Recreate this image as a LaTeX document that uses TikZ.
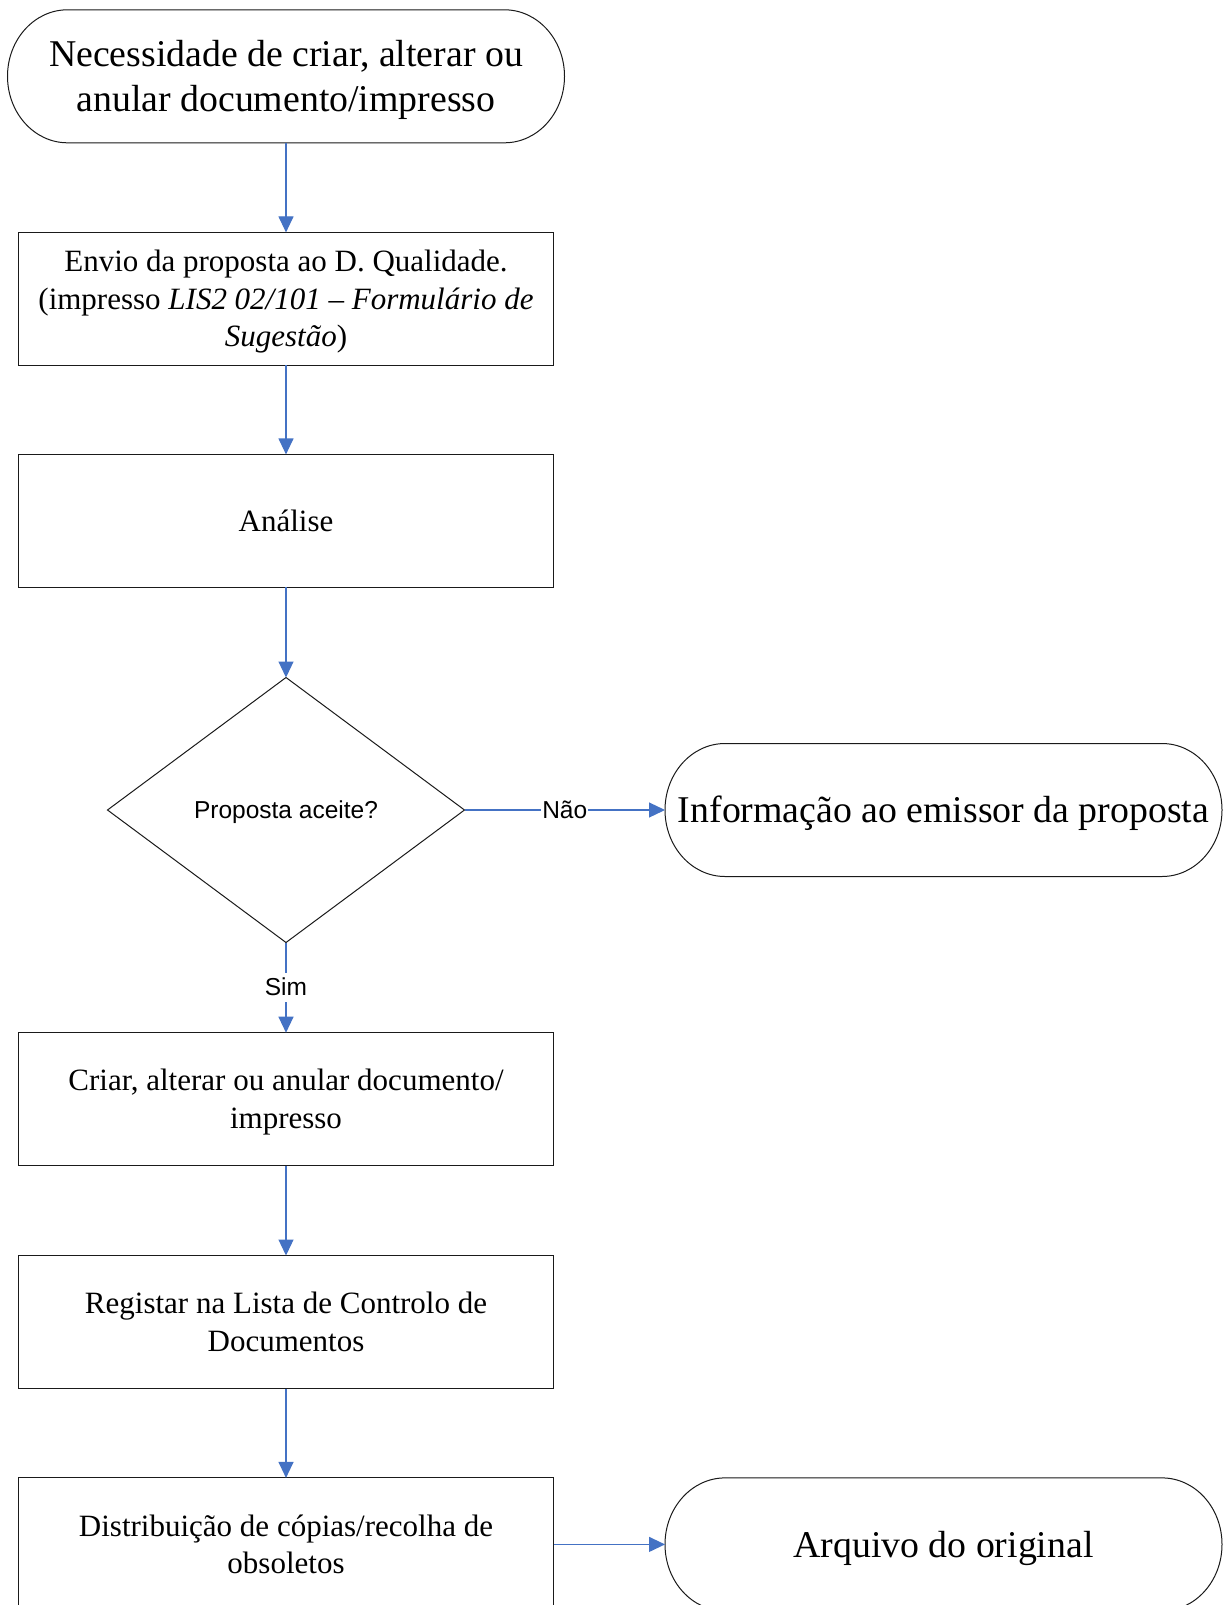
\documentclass[tikz,border=0pt]{standalone}
\usepackage{fontspec}
\setmainfont{Liberation Serif}
\newfontfamily\arialfont{Liberation Sans}
\usetikzlibrary{shapes.geometric,arrows.meta}
\definecolor{flowblue}{HTML}{4472C4}
\definecolor{edgegray}{HTML}{1A1A1A}

% invisible strut with the font's full ascent and descent
\newcommand\linestrut{\rule[-0.216em]{0pt}{1.107em}}

\tikzset{
  struts/.style={execute at begin node={\linestrut}, execute at end node={\linestrut}},
  box/.style={draw=edgegray, line width=1pt, minimum width=535pt, minimum height=133pt,
    inner sep=0pt, outer sep=0pt, align=center, struts,
    font=\fontsize{31}{37.5}\selectfont},
  term/.style={minimum width=557pt, minimum height=133pt, inner sep=0pt, outer sep=0pt,
    align=center, struts, font=\fontsize{37.8}{45}\selectfont},
  decision/.style={draw=edgegray, diamond, line width=1pt, minimum width=357pt,
    minimum height=265pt, inner sep=0pt, outer sep=0pt, struts,
    font=\arialfont\fontsize{24.5}{29}\selectfont},
  flow/.style={draw=flowblue, line width=1.2pt,
    -{Triangle[length=16pt,width=15pt,fill=flowblue]}},
  lbl/.style={fill=white, inner sep=1pt, struts, font=\arialfont\fontsize{24.5}{29}\selectfont}
}

% stadium outline with elliptical ends around a terminal node
\newcommand\terminaloutline[1]{%
  \draw[edgegray, line width=1pt]
    ([xshift=60pt]#1.north west) -- ([xshift=-60pt]#1.north east)
    arc[start angle=90, end angle=-90, x radius=60pt, y radius=66.5pt]
    -- ([xshift=60pt]#1.south west)
    arc[start angle=270, end angle=90, x radius=60pt, y radius=66.5pt] -- cycle;}

\begin{document}
\begin{tikzpicture}[x=1pt, y=1pt]
\clip (0,0) rectangle (1223,-1605);
\fill[white] (0,0) rectangle (1223,-1605);

\node[term] (start) at (286,-76.3) {\linestrut Necessidade de criar, alterar ou\\anular documento/impresso};
\terminaloutline{start}

\node[box] (envio) at (286,-298.9) {\linestrut Envio da proposta ao D. Qualidade.\\(impresso \textit{LIS2 02/101 – Formulário de}\\\textit{Sugestão})};
\node[box] (analise) at (286,-520.9) {Análise};
\node[decision] (dec) at (286,-810) {Proposta aceite?};
\node[term] (info) at (943.5,-810) {Informação ao emissor da proposta};
\terminaloutline{info}
\node[box] (criar) at (286,-1099.2) {\linestrut Criar, alterar ou anular documento/\\impresso};
\node[box] (registar) at (286,-1322) {\linestrut Registar na Lista de Controlo de\\Documentos};
\node[box] (distrib) at (286,-1544.4) {\linestrut Distribuição de cópias/recolha de\\obsoletos};
\node[term] (arquivo) at (943.5,-1544.4) {Arquivo do original};
\terminaloutline{arquivo}

\draw[flow] (start.south) -- (envio.north);
\draw[flow] (envio.south) -- (analise.north);
\draw[flow] (analise.south) -- (dec.north);
\draw[flow] (dec.east) -- node[lbl] {Não} (info.west);
\draw[flow] (dec.south) -- node[lbl] {Sim} (criar.north);
\draw[flow] (criar.south) -- (registar.north);
\draw[flow] (registar.south) -- (distrib.north);
\draw[flow] (distrib.east) -- (arquivo.west);
\end{tikzpicture}
\end{document}
